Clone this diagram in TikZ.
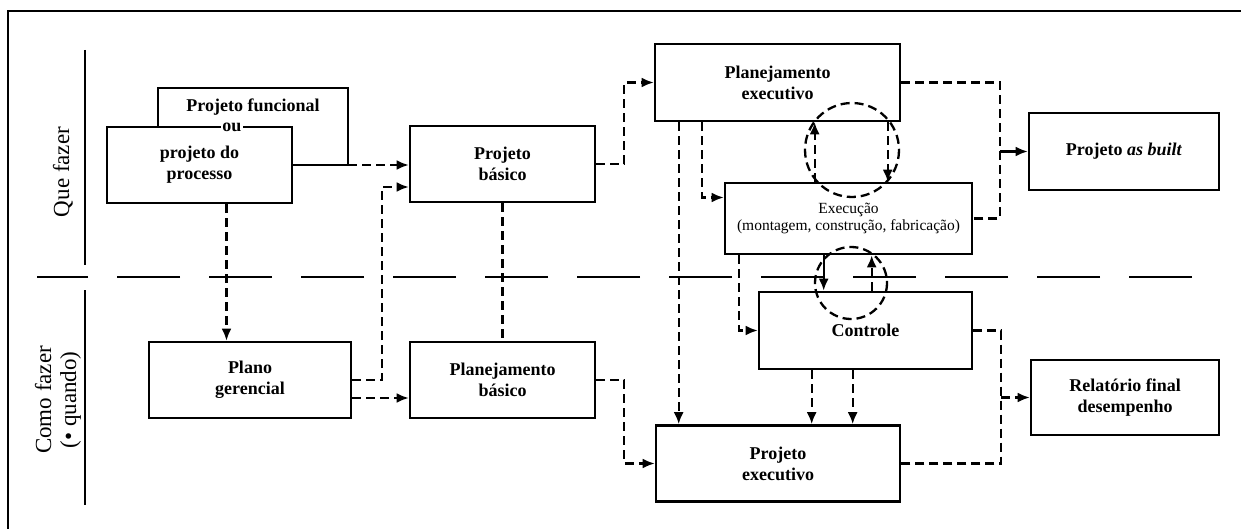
\documentclass[tikz,border=0pt]{standalone}
\usepackage{fontspec}
\setmainfont{Liberation Serif}
\usetikzlibrary{positioning,arrows.meta,calc}
\tikzset{
>={Latex[length=12pt,width=10pt]}, % filled arrow heads
box/.style 2 args={draw, line width=2.6pt, minimum width=#1, minimum height=#2, align=center, font=\fontsize{18}{21}\selectfont\bfseries}, % plain boxes
flow/.style={dash pattern=on 9pt off 5pt, line width=2.3pt}, % dashed links
link/.style={line width=2.3pt}, % solid links
side/.style={rotate=90, align=center, font=\fontsize{23}{25}\selectfont}, % row titles
}

\begin{document}
\begin{tikzpicture}[x=1pt,y=-1pt]
   \useasboundingbox (0,0) rectangle (1241,529);
   % frame and row separators
   \draw[line width=2.6pt] (8,529) -- (8,11) -- (1241,11);
   \draw[line width=2pt] (85,50) -- (85,265) (85,290) -- (85,505);
   \draw[line width=2pt, dash pattern=on 63pt off 29pt] (1192,277) -- (37,277);
   \node[side] (quefazer) at (63,172) {Que fazer};
   \node[side] (comofazer) at (58,400) {Como fazer\\(\textbullet\ quando)};

   % boxes
   \node[box={185pt}{76pt}] (processo) at (199.5,165) {projeto do\\processo};
   \node[font=\fontsize{18}{21}\selectfont\bfseries] (funcional) at (253,107) {Projeto funcional};
   \node[fill=white, inner sep=1.5pt, font=\fontsize{18}{21}\selectfont\bfseries] (ou) at (232,127) {ou};
   \node[box={185pt}{76pt}] (basico) at (502.5,164) {Projeto\\básico};
   \node[box={245pt}{77pt}] (planexec) at (777.5,82.5) {Planejamento\\executivo};
   \node[box={190pt}{77pt}] (asbuilt) at (1124,151.5) {Projeto \textit{as built}};
   \node[box={247pt}{71pt}, font=\fontsize{15.5}{17}\selectfont] (execucao) at (848.5,218.5) {Execução\\(montagem, construção, fabricação)};
   \node[box={202pt}{76pt}] (gerencial) at (250,380) {Plano\\gerencial};
   \node[box={185pt}{76pt}] (planbasico) at (502.5,380) {Planejamento\\básico};
   \node[box={213pt}{77pt}] (controle) at (865.5,330.5) {Controle};
   \node[box={244pt}{76pt}] (projexec) at (778,463.5) {Projeto\\executivo};
   \node[box={188pt}{75pt}] (relatorio) at (1125,397.5) {Relatório final\\desempenho};

   % back box of the first step
   \coordinate (fcorner) at (348,165);
   \draw[line width=2.6pt] (fcorner) |- (158,88) -- (158,127);
   \draw[link] (processo.east) -- (fcorner);

   % links
   \draw[flow,->] (fcorner) -- (fcorner -| basico.west);
   \draw[flow,->] ($(processo.south)+(27,0)$) coordinate (pd) -- (pd |- gerencial.north);
   \draw[flow,->] (gerencial.east) -- ++(30,0) |- ($(basico.west)+(0,23)$);
   \draw[flow,->] ($(gerencial.east)+(0,18)$) -- ($(planbasico.west)+(0,18)$);
   \draw[flow] (basico.south) -- (planbasico.north);
   \draw[flow,->] (basico.east) -- ++(28,0) |- (planexec.west);
   \draw[flow,->] (planbasico.east) -- ++(28,0) |- (projexec.west);
   \draw[flow,->] ($(planexec.south west)+(25,0)$) coordinate (pa) -- (pa |- projexec.north);
   \draw[flow,->] ($(planexec.south west)+(48,0)$) |- ($(execucao.west)+(0,-21)$);
   \draw[flow,->] ($(execucao.south west)+(15,0)$) |- (controle.west);
   \draw[flow,->] ($(controle.south west)+(54,0)$) coordinate (ca) -- (ca |- projexec.north);
   \draw[flow,->] ($(controle.south west)+(95,0)$) coordinate (cb) -- (cb |- projexec.north);

   % feedback loops
   \draw[flow] (852,150) circle[radius=47];
   \draw[flow,->] ($(execucao.north west)+(91,0)$) coordinate (ea) -- (ea |- planexec.south);
   \draw[flow,->] ($(planexec.south west)+(234,0)$) coordinate (pb) -- (pb |- execucao.north);
   \draw[flow] (851,283) circle[radius=36];
   \draw[link,->] ($(execucao.south west)+(100,0)$) coordinate (eb) -- (eb |- controle.north);
   \draw[flow,->] ($(controle.north west)+(114,0)$) coordinate (cc) -- (cc |- execucao.south);

   % outputs
   \draw[flow] (planexec.east) -- ++(99,0) coordinate (abx) |- (execucao.east);
   \draw[link,->] (abx |- asbuilt.west) -- (asbuilt.west);
   \draw[flow] (controle.east) -- ++(28,0) coordinate (rfx) |- (projexec.east);
   \draw[flow,->] (rfx |- relatorio.west) -- (relatorio.west);
\end{tikzpicture}
\end{document}
